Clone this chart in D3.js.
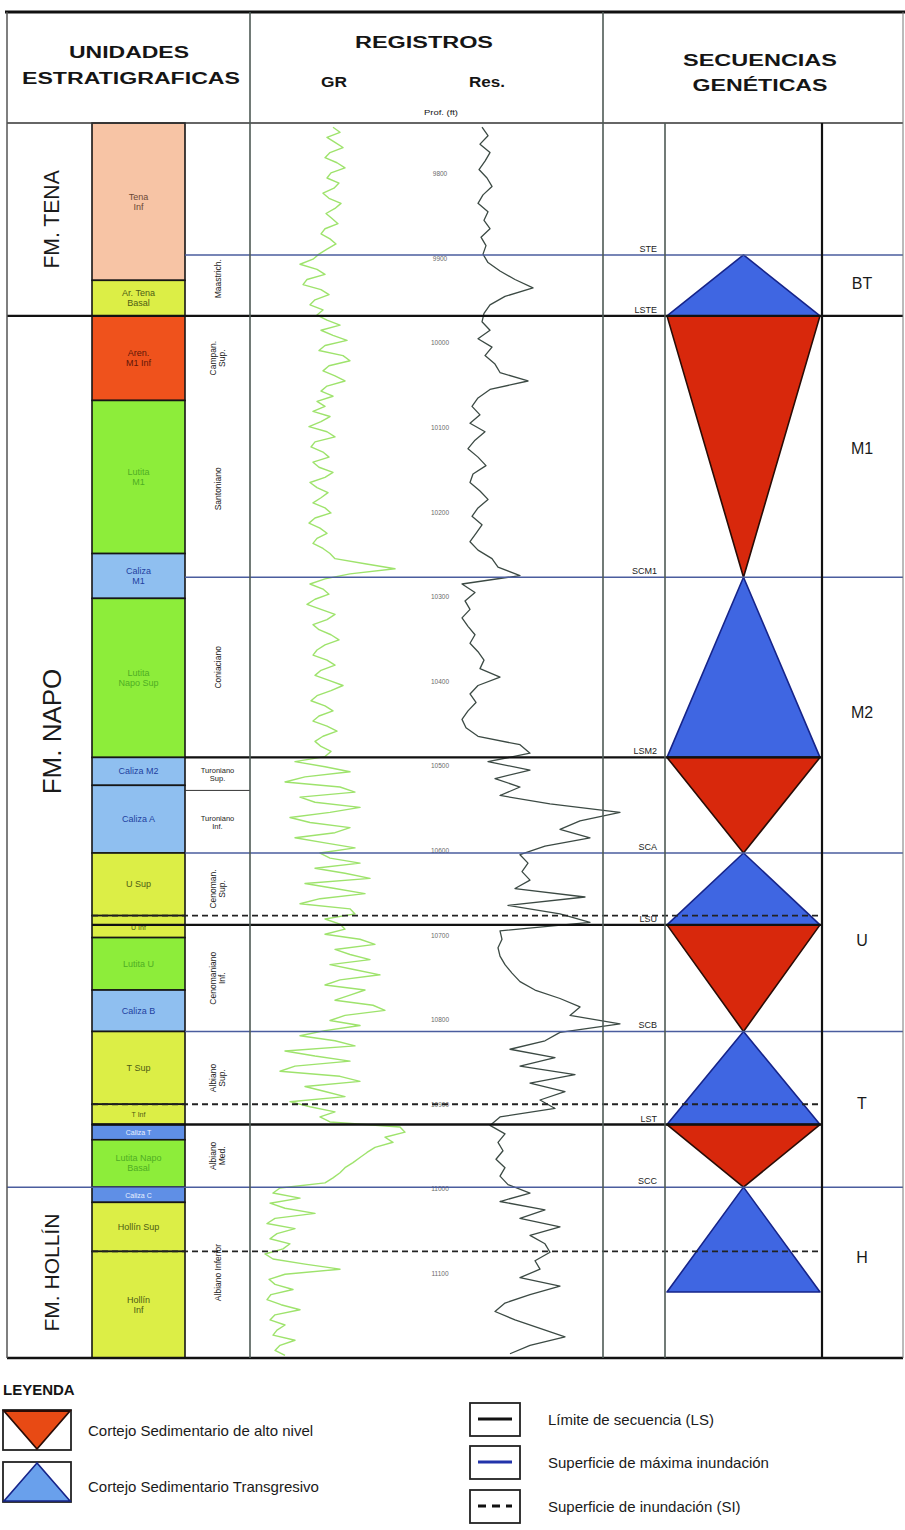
<!DOCTYPE html>
<html>
<head>
<meta charset="utf-8">
<script src="https://cdn.jsdelivr.net/npm/d3@7"></script>
<style>
body { margin: 0; background: #fff; }
svg { display: block; font-family: "Liberation Sans", Arial, sans-serif; }
</style>
</head>
<body>
<svg id="chart" width="905" height="1530"></svg>
<script>
// ---- data (depths in feet) ----
const formations = [
  { name: 'FM. TENA', top: 9740, base: 9968 },
  { name: 'FM. NAPO', top: 9968, base: 10998 },
  { name: 'FM. HOLLÍN', top: 10998, base: 11200 }
];

const units = [
  { name: 'Tena|Inf', top: 9740, base: 9926, lith: 'tena' },
  { name: 'Ar. Tena|Basal', top: 9926, base: 9968, lith: 'arenisca' },
  { name: 'Aren.|M1 Inf', top: 9968, base: 10068, lith: 'arenM1' },
  { name: 'Lutita|M1', top: 10068, base: 10249, lith: 'lutita' },
  { name: 'Caliza|M1', top: 10249, base: 10302, lith: 'caliza' },
  { name: 'Lutita|Napo Sup', top: 10302, base: 10490, lith: 'lutita' },
  { name: 'Caliza M2', top: 10490, base: 10523, lith: 'caliza' },
  { name: 'Caliza A', top: 10523, base: 10603, lith: 'caliza' },
  { name: 'U Sup', top: 10603, base: 10677, lith: 'arenisca' },
  { name: 'U Inf', top: 10677, base: 10703, lith: 'arenisca' },
  { name: 'Lutita U', top: 10703, base: 10765, lith: 'lutita' },
  { name: 'Caliza B', top: 10765, base: 10814, lith: 'caliza' },
  { name: 'T Sup', top: 10814, base: 10900, lith: 'arenisca' },
  { name: 'T Inf', top: 10900, base: 10924, lith: 'arenisca' },
  { name: 'Caliza T', top: 10924, base: 10942, lith: 'calizaOsc' },
  { name: 'Lutita Napo|Basal', top: 10942, base: 10998, lith: 'lutita' },
  { name: 'Caliza C', top: 10998, base: 11016, lith: 'calizaOsc' },
  { name: 'Hollín Sup', top: 11016, base: 11074, lith: 'arenisca' },
  { name: 'Hollín|Inf', top: 11074, base: 11200, lith: 'arenisca' }
];

const ages = [
  { name: 'Maastrich.', top: 9880, base: 9968 },
  { name: 'Campan.|Sup.', top: 9968, base: 10068 },
  { name: 'Santoniano', top: 10068, base: 10277 },
  { name: 'Coniaciano', top: 10277, base: 10490 },
  { name: 'Turoniano|Sup.', top: 10490, base: 10529 },
  { name: 'Turoniano|Inf.', top: 10529, base: 10603 },
  { name: 'Cenoman.|Sup.', top: 10603, base: 10688 },
  { name: 'Cenomaniano|Inf.', top: 10688, base: 10814 },
  { name: 'Albiano|Sup.', top: 10814, base: 10924 },
  { name: 'Albiano|Med.', top: 10924, base: 10998 },
  { name: 'Albiano Inferior', top: 10998, base: 11200 }
];
const flatAges = ['Turoniano|Sup.', 'Turoniano|Inf.'];

// LS = límite de secuencia, MFS = máxima inundación, SI = superficie de inundación
const surfaces = [
  { name: 'STE', depth: 9896, type: 'MFS', span: 'age' },
  { name: 'LSTE', depth: 9968, type: 'LS', span: 'all' },
  { name: 'SCM1', depth: 10277, type: 'MFS', span: 'age' },
  { name: 'LSM2', depth: 10490, type: 'LS', span: 'ageSeq' },
  { name: 'SCA', depth: 10603, type: 'MFS', span: 'age' },
  { name: '', depth: 10677, type: 'SI', span: 'unitSeq' },
  { name: 'LSU', depth: 10688, type: 'LS', span: 'unitSeq' },
  { name: 'SCB', depth: 10814, type: 'MFS', span: 'age' },
  { name: '', depth: 10900, type: 'SI', span: 'unitSeq' },
  { name: 'LST', depth: 10924, type: 'LS', span: 'unitSeq' },
  { name: 'SCC', depth: 10998, type: 'MFS', span: 'all' },
  { name: '', depth: 11074, type: 'SI', span: 'unitSeq' }
];

// TST = transgresivo (azul), HST = alto nivel (rojo)
const tracts = [
  { type: 'TST', top: 9896, base: 9968 },
  { type: 'HST', top: 9968, base: 10277 },
  { type: 'TST', top: 10277, base: 10490 },
  { type: 'HST', top: 10490, base: 10603 },
  { type: 'TST', top: 10603, base: 10688 },
  { type: 'HST', top: 10688, base: 10814 },
  { type: 'TST', top: 10814, base: 10924 },
  { type: 'HST', top: 10924, base: 10998 },
  { type: 'TST', top: 10998, base: 11122 }
];

const sequences = [
  { name: 'BT', depth: 9930 },
  { name: 'M1', depth: 10125 },
  { name: 'M2', depth: 10437 },
  { name: 'U', depth: 10706 },
  { name: 'T', depth: 10899 },
  { name: 'H', depth: 11081 }
];

const depthTicks = [9800, 9900, 10000, 10100, 10200, 10300, 10400, 10500, 10600, 10700, 10800, 10900, 11000, 11100];

// Gamma ray (API), read every 6 ft from 9745 ft
const grTop = 9745, grStep = 6;
const grValues = [
  78, 85, 72, 80, 88, 75, 70, 82, 90, 76, 72, 84, 79, 68, 74, 86, 80, 71, 77, 83, 70, 66, 75, 81, 72, 64,
  58, 45, 62, 70, 52, 48, 66, 74, 60, 55, 68, 62,
  72, 85, 66, 78, 92, 70, 64, 88, 95, 74, 68, 80, 90, 72, 66, 78,
  62, 70, 58, 75, 66, 54, 72, 80, 60, 56, 68, 74, 58, 64, 78, 70, 55, 62, 73, 66, 58, 70, 76, 60, 54, 65, 72, 62, 58, 68, 75,
  80, 110, 140, 95, 70,
  55, 68, 74, 60, 52, 66, 80, 72, 58, 64, 76, 84, 70, 62, 58, 72, 80, 66, 60, 74, 88, 76, 62, 56, 70, 78, 64, 58, 72, 82, 68, 60, 66, 76, 70,
  40, 70, 95, 50, 30, 85, 100, 45, 60, 105, 75, 35, 55, 95, 80, 40, 70, 100, 65,
  75, 105, 60, 90, 115, 50, 80, 110, 65, 45, 95, 100, 70, 85,
  90, 70, 105, 120, 80, 95, 115, 75, 100, 125, 85, 70, 110, 95, 80, 118, 130, 90, 75, 105, 70,
  45, 80, 100, 30, 60, 95, 40, 25, 85, 105, 50, 70, 90, 35, 55, 80, 65, 75,
  145, 150, 130, 138, 120, 112, 105, 98, 90, 85, 78, 70,
  25, 18, 45, 15, 30, 60, 20, 12, 40, 22, 15, 35, 28, 10, 18, 50, 85, 30, 14, 20, 38, 16, 12, 26, 45, 20, 15, 30, 22, 18, 40, 25, 20, 30
];

// Resistividad (ohm-m), read every 10 ft from 9745 ft
const resTop = 9745, resStep = 10;
const resValues = [
  42, 48, 40, 50, 45, 39, 47, 52, 43, 38, 48, 44, 50, 41, 46, 43,
  48, 60, 75, 93, 65, 50, 44,
  42, 50, 38, 52, 45, 55, 60, 88, 50, 38,
  32, 40, 30, 45, 35, 28, 38, 46, 33, 30, 40, 48, 38, 32, 42, 36, 30, 38, 52, 58, 80,
  22, 35, 25, 30, 22, 28, 35, 30, 38, 44, 40, 60, 38, 30, 36, 28, 22, 26, 38, 80, 90,
  48, 90, 55, 80, 60, 110, 180, 140, 120, 150, 105,
  80, 88, 82, 90, 75, 145, 68, 120, 150,
  60, 62, 58, 60, 65, 72, 80, 95, 120, 140, 130, 180,
  120, 105, 70, 115, 80, 135, 90, 125, 100, 115, 60,
  50, 65, 58, 63, 56, 65, 60, 68,
  90, 60, 105, 80, 120, 90, 105, 110, 95, 100, 80, 120, 90, 65, 55, 75, 100, 125, 90, 70
];

// ---- layout ----
const svg = d3.select('#chart');
const X = { left: 7, unit: 92, age: 185, log: 250, surf: 603, tri: 665, seq: 822, right: 903 };
const TOP = 12, HEAD = 123, BOTTOM = 1358;

const y = d3.scaleLinear().domain([9740, 11200]).range([HEAD, BOTTOM]);
const xGR = d3.scaleLinear().domain([0, 160]).range([255, 415]);
const xRes = d3.scaleLinear().domain([0, 200]).range([440, 640]);

const lithFill = d3.scaleOrdinal()
  .domain(['tena', 'arenisca', 'arenM1', 'lutita', 'caliza', 'calizaOsc'])
  .range(['#f7c4a5', '#dcee46', '#ef521c', '#8ded3a', '#8fbff0', '#5f8fe6']);
const lithText = d3.scaleOrdinal()
  .domain(['tena', 'arenisca', 'arenM1', 'lutita', 'caliza', 'calizaOsc'])
  .range(['#6b4836', '#4e5c14', '#5e1608', '#4fae24', '#1f3fa0', '#e8f0ff']);

const spanX = {
  all: [X.left, X.right],
  age: [X.age, X.right],
  ageSeq: [X.age, X.seq],
  unitSeq: [X.unit, X.seq]
};

// units column
svg.append('g').selectAll('rect')
  .data(units)
  .join('rect')
  .attr('x', X.unit)
  .attr('width', X.age - X.unit)
  .attr('y', d => y(d.top))
  .attr('height', d => y(d.base) - y(d.top))
  .attr('fill', d => lithFill(d.lith))
  .attr('stroke', '#161616')
  .attr('stroke-width', 1.6);

const unitLabels = svg.append('g').attr('text-anchor', 'middle');
units.forEach(d => {
  const lines = d.name.split('|');
  const h = y(d.base) - y(d.top);
  const fs = h < 24 ? 7 : 9;
  const cx = (X.unit + X.age) / 2;
  const t = unitLabels.append('text')
    .attr('x', cx)
    .attr('y', (y(d.top) + y(d.base)) / 2 - (lines.length - 1) * fs * 0.55)
    .attr('dominant-baseline', 'central')
    .attr('font-size', fs)
    .attr('fill', lithText(d.lith));
  lines.forEach((l, i) => t.append('tspan').attr('x', cx).attr('dy', i ? fs * 1.1 : 0).text(l));
});

// ages column
const ageG = svg.append('g').attr('text-anchor', 'middle').attr('fill', '#222');
ages.forEach(d => {
  const lines = d.name.split('|');
  const cx = (X.age + X.log) / 2;
  const cy = (y(d.top) + y(d.base)) / 2;
  const flat = flatAges.includes(d.name);
  const fs = flat ? 7.5 : 8.5;
  const t = ageG.append('text')
    .attr('font-size', fs)
    .attr('dominant-baseline', 'central');
  if (flat) {
    t.attr('transform', `translate(${cx},${cy - (lines.length - 1) * fs * 0.55})`);
    ageG.append('line')
      .attr('x1', X.age).attr('x2', X.log)
      .attr('y1', y(d.top)).attr('y2', y(d.top))
      .attr('stroke', '#333').attr('stroke-width', 1);
  } else {
    t.attr('transform', `translate(${cx - (lines.length - 1) * fs * 0.55},${cy}) rotate(-90)`);
  }
  lines.forEach((l, i) => t.append('tspan').attr('x', 0).attr('y', 0).attr('dy', i * fs * 1.1).text(l));
});

// formations
const fmSize = d3.scaleLinear().domain([170, 870]).range([21, 26]).clamp(true);
svg.append('g').selectAll('text')
  .data(formations)
  .join('text')
  .attr('transform', d => `translate(${(X.left + X.unit) / 2 + 2},${(y(d.top) + y(d.base)) / 2 - (d.base - d.top > 500 ? 20 : 0)}) rotate(-90)`)
  .attr('text-anchor', 'middle')
  .attr('dominant-baseline', 'central')
  .attr('font-size', d => fmSize(y(d.base) - y(d.top)))
  .attr('fill', '#1a1a1a')
  .text(d => d.name);

// depth labels
svg.append('g').selectAll('text')
  .data(depthTicks)
  .join('text')
  .attr('x', 440)
  .attr('y', d => y(d))
  .attr('text-anchor', 'middle')
  .attr('dominant-baseline', 'central')
  .attr('font-size', 6.5)
  .attr('fill', '#6a6a6a')
  .text(d => d);

// log curves
const grLine = d3.line().x(d => xGR(d)).y((d, i) => y(grTop + i * grStep));
svg.append('path')
  .datum(grValues)
  .attr('d', grLine)
  .attr('fill', 'none')
  .attr('stroke', '#9ee36c')
  .attr('stroke-width', 1.4)
  .attr('stroke-linejoin', 'round');

const resLine = d3.line().x(d => xRes(d)).y((d, i) => y(resTop + i * resStep));
svg.append('path')
  .datum(resValues)
  .attr('d', resLine)
  .attr('fill', 'none')
  .attr('stroke', '#3c4a44')
  .attr('stroke-width', 1.3)
  .attr('stroke-linejoin', 'round');

// systems tracts
const triL = X.tri + 2, triR = X.seq - 2, triC = (triL + triR) / 2;
svg.append('g').selectAll('polygon')
  .data(tracts)
  .join('polygon')
  .attr('points', d => {
    const t = y(d.top), b = y(d.base);
    return d.type === 'TST'
      ? [[triC, t], [triL, b], [triR, b]].join(' ')
      : [[triL, t], [triR, t], [triC, b]].join(' ');
  })
  .attr('fill', d => d.type === 'TST' ? '#3f66e2' : '#d8280c')
  .attr('stroke', d => d.type === 'TST' ? '#16248a' : '#2a0c06')
  .attr('stroke-width', 1.6)
  .attr('stroke-linejoin', 'round');

// surfaces
const surfStyle = {
  LS: { stroke: '#111', width: 2.4, dash: null },
  MFS: { stroke: '#4a5d9e', width: 1.5, dash: null },
  SI: { stroke: '#222', width: 1.8, dash: '6,4' }
};
svg.append('g').selectAll('line')
  .data(surfaces)
  .join('line')
  .attr('x1', d => spanX[d.span][0])
  .attr('x2', d => spanX[d.span][1])
  .attr('y1', d => y(d.depth))
  .attr('y2', d => y(d.depth))
  .attr('stroke', d => surfStyle[d.type].stroke)
  .attr('stroke-width', d => surfStyle[d.type].width)
  .attr('stroke-dasharray', d => surfStyle[d.type].dash);

svg.append('g').selectAll('text')
  .data(surfaces.filter(d => d.name))
  .join('text')
  .attr('x', X.tri - 8)
  .attr('y', d => y(d.depth) - 3)
  .attr('text-anchor', 'end')
  .attr('font-size', 9)
  .attr('fill', '#222')
  .text(d => d.name);

// sequence names
svg.append('g').selectAll('text')
  .data(sequences)
  .join('text')
  .attr('x', 862)
  .attr('y', d => y(d.depth))
  .attr('text-anchor', 'middle')
  .attr('dominant-baseline', 'central')
  .attr('font-size', 16)
  .attr('fill', '#1a1a1a')
  .text(d => d.name);

// frame
const frame = svg.append('g').attr('fill', 'none');
const vline = (x, y1, y2, c, w) => frame.append('line')
  .attr('x1', x).attr('x2', x).attr('y1', y1).attr('y2', y2)
  .attr('stroke', c).attr('stroke-width', w);
const hline = (yy, x1, x2, c, w) => frame.append('line')
  .attr('x1', x1).attr('x2', x2).attr('y1', yy).attr('y2', yy)
  .attr('stroke', c).attr('stroke-width', w);

hline(TOP, 5, 905, '#111', 3);
hline(HEAD, X.left, X.right, '#333', 1.6);
hline(BOTTOM, X.left, X.right, '#111', 2.6);
vline(X.left, TOP, BOTTOM, '#555', 1.5);
vline(X.right, TOP, BOTTOM, '#777', 1);
vline(X.log, TOP, BOTTOM, '#4e5a55', 1.6);
vline(X.surf, TOP, BOTTOM, '#4e5a55', 1.6);
vline(X.tri, HEAD, BOTTOM, '#4e5a55', 1.6);
vline(X.seq, HEAD, BOTTOM, '#111', 2.2);

// header
const head = svg.append('g').attr('text-anchor', 'middle').attr('fill', '#151515').attr('font-weight', 'bold');
const headText = (txt, x, yy, size, len) => head.append('text')
  .attr('x', x).attr('y', yy).attr('font-size', size)
  .attr('textLength', len).attr('lengthAdjust', 'spacingAndGlyphs')
  .text(txt);
headText('UNIDADES', 129, 58, 16, 120);
headText('ESTRATIGRAFICAS', 131, 84, 16, 218);
headText('REGISTROS', 424, 48, 16, 138);
headText('GR', 334, 87, 14, 26);
headText('Res.', 487, 87, 14, 36);
headText('Prof. (ft)', 441, 115, 8, 34).attr('font-weight', 'normal');
headText('SECUENCIAS', 760, 66, 16, 154);
headText('GENÉTICAS', 760, 91, 16, 135);

// legend
const leg = svg.append('g');
leg.append('text').attr('x', 3).attr('y', 1395).attr('font-size', 15)
  .attr('font-weight', 'bold').attr('fill', '#151515').text('LEYENDA');

leg.append('rect').attr('x', 3).attr('y', 1410).attr('width', 68).attr('height', 40)
  .attr('fill', '#fff').attr('stroke', '#222').attr('stroke-width', 1.8);
leg.append('polygon').attr('points', [[4, 1411], [70, 1411], [37, 1449]].join(' '))
  .attr('fill', '#e84a14').attr('stroke', '#2a0c06').attr('stroke-width', 1.8);
leg.append('rect').attr('x', 3).attr('y', 1462).attr('width', 68).attr('height', 40)
  .attr('fill', '#fff').attr('stroke', '#222').attr('stroke-width', 1.8);
leg.append('polygon').attr('points', [[37, 1463], [4, 1501], [70, 1501]].join(' '))
  .attr('fill', '#69a0ec').attr('stroke', '#16248a').attr('stroke-width', 1.6);

leg.append('text').attr('x', 88).attr('y', 1436).attr('font-size', 15).attr('fill', '#1a1a1a')
  .text('Cortejo Sedimentario de alto nivel');
leg.append('text').attr('x', 88).attr('y', 1492).attr('font-size', 15).attr('fill', '#1a1a1a')
  .text('Cortejo Sedimentario Transgresivo');

const lineKeys = [
  { label: 'Límite de secuencia (LS)', type: 'LS', y: 1403 },
  { label: 'Superficie de máxima inundación', type: 'MFS', y: 1446 },
  { label: 'Superficie de  inundación (SI)', type: 'SI', y: 1490 }
];
const keyColor = { LS: '#111', MFS: '#2233aa', SI: '#111' };
lineKeys.forEach(k => {
  leg.append('rect').attr('x', 470).attr('y', k.y).attr('width', 50).attr('height', 33)
    .attr('fill', '#fff').attr('stroke', '#222').attr('stroke-width', 1.8);
  leg.append('line').attr('x1', 478).attr('x2', 512)
    .attr('y1', k.y + 16).attr('y2', k.y + 16)
    .attr('stroke', keyColor[k.type]).attr('stroke-width', 3)
    .attr('stroke-dasharray', k.type === 'SI' ? '8,6' : null);
  leg.append('text').attr('x', 548).attr('y', k.y + 22).attr('font-size', 15)
    .attr('fill', '#1a1a1a').text(k.label);
});
</script>
</body>
</html>
